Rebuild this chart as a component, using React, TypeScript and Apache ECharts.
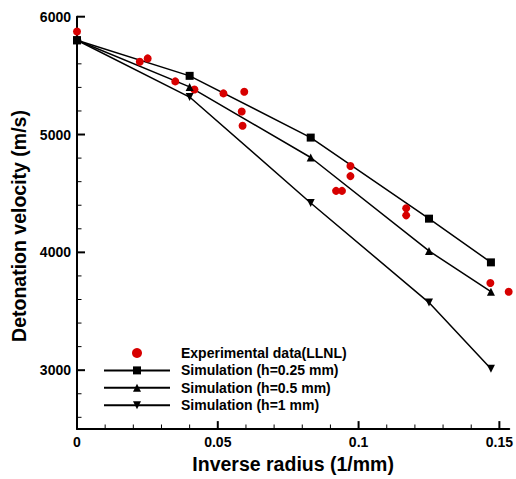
import React, { useEffect, useRef } from "react";
import * as echarts from "echarts";

const FONT = "'Liberation Sans', Arial, sans-serif";

const expX = [0, 0.0223, 0.0251, 0.0349, 0.0417, 0.052, 0.0594, 0.0585, 0.0588, 0.0971, 0.0971, 0.092, 0.0941, 0.1169, 0.1169, 0.1468, 0.1533];
const expY = [5875, 5617, 5646, 5451, 5382, 5349, 5363, 5196, 5074, 4733, 4647, 4522, 4522, 4375, 4314, 3740, 3666];

const simX = [0, 0.04, 0.083, 0.125, 0.147];
const simH025 = [5800, 5498, 4974, 4286, 3915];
const simH05 = [5800, 5404, 4805, 4012, 3666];
const simH1 = [5800, 5318, 4419, 3574, 3013];

const xMajor = [0, 0.05, 0.1, 0.15];
const xMinor = [0.01, 0.02, 0.03, 0.04, 0.06, 0.07, 0.08, 0.09, 0.11, 0.12, 0.13, 0.14];
const yMajor = [3000, 4000, 5000, 6000];
const yMinor = [2600, 2800, 3200, 3400, 3600, 3800, 4200, 4400, 4600, 4800, 5200, 5400, 5600, 5800];

const seriesNames = [
  "Experimental data(LLNL)",
  "Simulation (h=0.25 mm)",
  "Simulation (h=0.5 mm)",
  "Simulation (h=1 mm)",
];

const X_MIN = 0;
const X_MAX = 0.1535;
const Y_MIN = 2500;
const Y_MAX = 6000;

export default function App() {
  const ref = useRef<HTMLDivElement>(null);
  useEffect(() => {
    if (!ref.current) return;
    const chart = echarts.init(ref.current, null, { renderer: "svg" });
    const pair = (xs: number[], ys: number[]) => xs.map((x, i) => [x, ys[i]]);
    const lineSeries = (name: string, ys: number[], symbol: string, rotate: number) => ({
      name,
      type: "line",
      data: pair(simX, ys),
      symbol,
      symbolRotate: rotate,
      symbolSize: 8,
      clip: false,
      lineStyle: { color: "#000", width: 1.5 },
      itemStyle: { color: "#000" },
    });
    chart.setOption({
      animation: false,
      backgroundColor: "#fff",
      grid: { left: 77, right: 4.3, top: 16.7, bottom: 40.7, containLabel: false },
      xAxis: {
        type: "value",
        min: X_MIN,
        max: X_MAX,
        splitLine: { show: false },
        name: "Inverse radius (1/mm)",
        nameLocation: "middle",
        nameGap: 18,
        nameTextStyle: { fontFamily: FONT, fontWeight: "bold", fontSize: 19.5, color: "#000" },
        axisLine: { show: true, lineStyle: { color: "#000", width: 2 } },
        axisTick: { show: false },
        axisLabel: {
          customValues: xMajor,
          margin: 6,
          fontFamily: FONT,
          fontWeight: "bold",
          fontSize: 14,
          color: "#000",
          formatter: (v: number) => String(Math.round(v * 100) / 100),
        },
      },
      yAxis: {
        type: "value",
        min: Y_MIN,
        max: Y_MAX,
        splitLine: { show: false },
        axisLine: { show: true, lineStyle: { color: "#000", width: 2 } },
        axisTick: { show: false },
        axisLabel: {
          customValues: yMajor,
          margin: 6,
          fontFamily: FONT,
          fontWeight: "bold",
          fontSize: 14,
          color: "#000",
          formatter: (v: number) => String(v),
        },
      },
      legend: {
        orient: "vertical",
        left: 103,
        top: 346,
        padding: 0,
        itemWidth: 66,
        itemHeight: 10,
        itemGap: 3.4,
        data: seriesNames,
        textStyle: {
          fontFamily: FONT,
          fontWeight: "bold",
          fontSize: 14,
          color: "#000",
          padding: [0, 0, 0, 6],
        },
      },
      series: [
        {
          name: seriesNames[0],
          type: "scatter",
          data: pair(expX, expY),
          symbol: "circle",
          symbolSize: 8,
          clip: false,
          itemStyle: { color: "#d70000", opacity: 1 },
          z: 3,
        },
        lineSeries(seriesNames[1], simH025, "rect", 0),
        lineSeries(seriesNames[2], simH05, "triangle", 0),
        lineSeries(seriesNames[3], simH1, "triangle", 180),
      ],
    });

    // Tick marks placed through the chart's own scales
    const toPx = (x: number, y: number) =>
      chart.convertToPixel({ gridIndex: 0 }, [x, y]) as number[];
    const ticks: any[] = [];
    const addX = (vals: number[], len: number, w: number) =>
      vals.forEach((v) => {
        const p = toPx(v, Y_MIN);
        ticks.push({ type: "rect", shape: { x: p[0] - w / 2, y: p[1] - len, width: w, height: len }, style: { fill: "#000" }, z: 100 });
      });
    const addY = (vals: number[], len: number, w: number) =>
      vals.forEach((v) => {
        const p = toPx(X_MIN, v);
        ticks.push({ type: "rect", shape: { x: p[0], y: p[1] - w / 2, width: len, height: w }, style: { fill: "#000" }, z: 100 });
      });
    addX(xMajor, 8, 2);
    addX(xMinor, 4.5, 1);
    addY(yMajor, 8, 2);
    addY(yMinor, 4.5, 1);

    chart.setOption({
      graphic: [
        {
          type: "text",
          x: 19,
          y: 226,
          rotation: Math.PI / 2,
          style: {
            text: "Detonation velocity (m/s)",
            fontFamily: FONT,
            fontWeight: "bold",
            fontSize: 19.5,
            fill: "#000",
            align: "center",
            verticalAlign: "middle",
          },
        },
        ...ticks,
      ],
    });
    return () => chart.dispose();
  }, []);
  return <div ref={ref} style={{ width: 516, height: 479, position: "absolute", left: 0, top: 0 }} />;
}
